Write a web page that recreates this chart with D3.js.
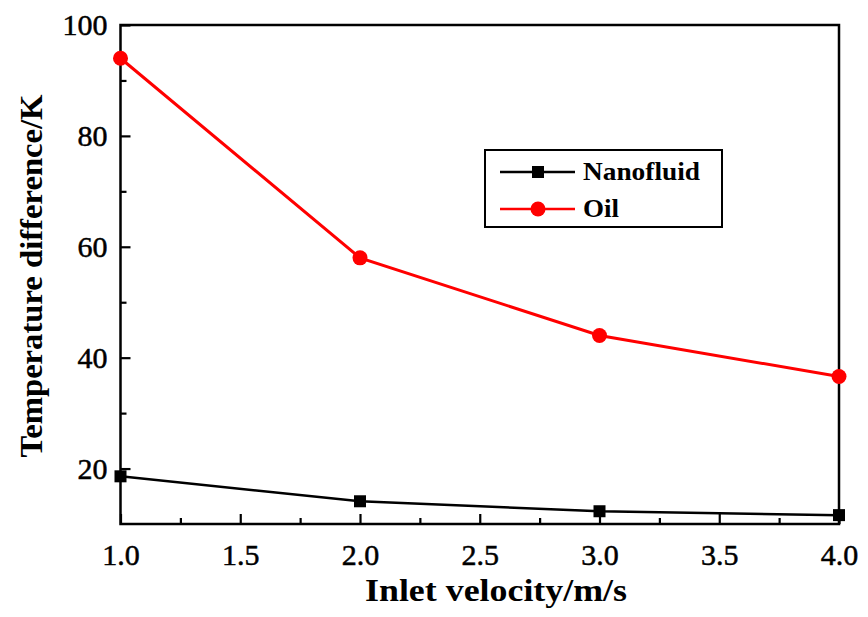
<!DOCTYPE html>
<html>
<head>
<meta charset="utf-8">
<script src="https://cdn.jsdelivr.net/npm/d3@7"></script>
<style>
  html, body { margin: 0; padding: 0; background: #fff; }
  svg { display: block; }
</style>
</head>
<body>
<svg id="chart" width="868" height="617"></svg>
<script>
// Inlet velocity (m/s)
const velocity = [1.0, 2.0, 3.0, 4.0];
// Temperature difference (K)
const nanofluid = [18.6, 14.1, 12.3, 11.6];
const oil = [94.0, 58.0, 44.0, 36.6];
const xTicks = [1.0, 1.5, 2.0, 2.5, 3.0, 3.5, 4.0];
const xMinorTicks = [1.25, 1.75, 2.25, 2.75, 3.25, 3.75];
const yTicks = [20, 40, 60, 80, 100];
const yMinorTicks = [30, 50, 70, 90];
const seriesNames = ["Nanofluid", "Oil"];

const SERIF = "Liberation Serif, Times New Roman, serif";
const svg = d3.select("#chart");
const margin = { left: 120.5, right: 29, top: 25, bottom: 93 };
const W = 868, H = 617;

const x = d3.scaleLinear().domain([1.0, 4.0]).range([margin.left, W - margin.right]);
const y = d3.scaleLinear().domain([10, 100]).range([H - margin.bottom, margin.top]);

// Ticks point inward from the bottom and left axes
const xAxis = d3.axisBottom(x).tickValues(xTicks).tickFormat(d3.format(".1f"))
  .tickSizeInner(-10).tickSizeOuter(0).tickPadding(20);
const xMinor = d3.axisBottom(x).tickValues(xMinorTicks).tickFormat("")
  .tickSizeInner(-6).tickSizeOuter(0);
const yAxis = d3.axisLeft(y).tickValues(yTicks).tickFormat(d3.format("d"))
  .tickSizeInner(-10).tickSizeOuter(0).tickPadding(13);
const yMinor = d3.axisLeft(y).tickValues(yMinorTicks).tickFormat("")
  .tickSizeInner(-6).tickSizeOuter(0);

function styleAxis(g) {
  g.attr("font-family", SERIF).attr("font-size", 30);
  g.select(".domain").remove();
  g.selectAll(".tick line").attr("stroke", "#000").attr("stroke-width", 2.2);
  g.selectAll(".tick text").attr("fill", "#000")
    .attr("stroke", "#000").attr("stroke-width", 0.5);
}

const yb = H - margin.bottom;
svg.append("g").attr("transform", `translate(0,${yb})`).call(xAxis).call(styleAxis);
svg.append("g").attr("transform", `translate(0,${yb})`).call(xMinor).call(styleAxis);
svg.append("g").attr("transform", `translate(${margin.left},0)`).call(yAxis).call(styleAxis);
svg.append("g").attr("transform", `translate(${margin.left},0)`).call(yMinor).call(styleAxis);

// Plot frame
svg.append("rect")
  .attr("x", margin.left).attr("y", margin.top)
  .attr("width", W - margin.right - margin.left)
  .attr("height", H - margin.bottom - margin.top)
  .attr("fill", "none").attr("stroke", "#000").attr("stroke-width", 2.5);

const line = d3.line().x((d, i) => x(velocity[i])).y(d => y(d));

// Nanofluid series
svg.append("path").datum(nanofluid).attr("d", line)
  .attr("fill", "none").attr("stroke", "#000").attr("stroke-width", 2.5);
svg.selectAll(".sq").data(nanofluid).enter().append("rect")
  .attr("x", (d, i) => x(velocity[i]) - 6).attr("y", d => y(d) - 6)
  .attr("width", 12).attr("height", 12).attr("fill", "#000");

// Oil series
svg.append("path").datum(oil).attr("d", line)
  .attr("fill", "none").attr("stroke", "#ff0000").attr("stroke-width", 3);
svg.selectAll(".dot").data(oil).enter().append("circle")
  .attr("cx", (d, i) => x(velocity[i])).attr("cy", d => y(d))
  .attr("r", 7.5).attr("fill", "#ff0000");

// Axis titles
svg.append("text")
  .attr("x", 496).attr("y", 601)
  .attr("text-anchor", "middle").attr("font-family", SERIF)
  .attr("font-size", 31).attr("font-weight", "bold")
  .attr("textLength", 262).attr("lengthAdjust", "spacingAndGlyphs")
  .text("Inlet velocity/m/s");
svg.append("text")
  .attr("transform", "translate(42,276) rotate(-90)")
  .attr("text-anchor", "middle").attr("font-family", SERIF)
  .attr("font-size", 31).attr("font-weight", "bold")
  .attr("textLength", 363).attr("lengthAdjust", "spacingAndGlyphs")
  .text("Temperature difference/K");

// Legend
const lg = svg.append("g");
lg.append("rect").attr("x", 485).attr("y", 150).attr("width", 237).attr("height", 77)
  .attr("fill", "#fff").attr("stroke", "#000").attr("stroke-width", 2);
const colors = ["#000", "#ff0000"];
const textLens = [117, 36];
seriesNames.forEach((name, i) => {
  const ly = 172 + i * 37;
  lg.append("line").attr("x1", 500).attr("x2", 575).attr("y1", ly).attr("y2", ly)
    .attr("stroke", colors[i]).attr("stroke-width", 2.5);
  if (i === 0) {
    lg.append("rect").attr("x", 532).attr("y", ly - 6).attr("width", 12).attr("height", 12).attr("fill", "#000");
  } else {
    lg.append("circle").attr("cx", 538).attr("cy", ly).attr("r", 7.5).attr("fill", "#ff0000");
  }
  lg.append("text").attr("x", 583).attr("y", ly + 8).attr("font-family", SERIF)
    .attr("font-size", 25).attr("font-weight", "bold")
    .attr("textLength", textLens[i]).attr("lengthAdjust", "spacingAndGlyphs")
    .text(name);
});
</script>
</body>
</html>
